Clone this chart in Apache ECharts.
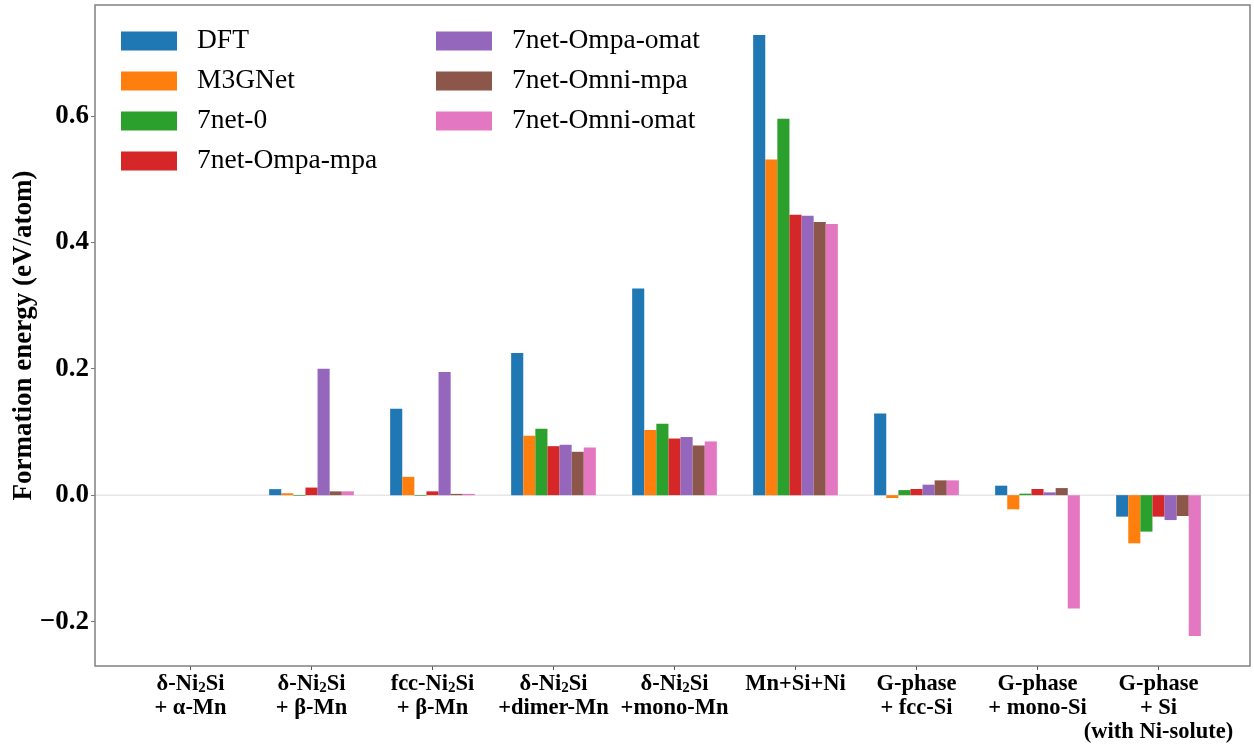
<!DOCTYPE html>
<html>
<head>
<meta charset="utf-8">
<script src="https://cdn.jsdelivr.net/npm/echarts@6/dist/echarts.min.js"></script>
<style>html,body{margin:0;padding:0;background:#fff;}#c{width:1254px;height:749px;}</style>
</head>
<body>
<div id="c"></div>
<script>
const categories = [
  'δ-Ni2Si\n+ α-Mn',
  'δ-Ni2Si\n+ β-Mn',
  'fcc-Ni2Si\n+ β-Mn',
  'δ-Ni2Si\n+dimer-Mn',
  'δ-Ni2Si\n+mono-Mn',
  'Mn+Si+Ni',
  'G-phase\n+ fcc-Si',
  'G-phase\n+ mono-Si',
  'G-phase\n+ Si\n(with Ni-solute)'
];
const seriesNames = ['DFT', 'M3GNet', '7net-0', '7net-Ompa-mpa', '7net-Ompa-omat', '7net-Omni-mpa', '7net-Omni-omat'];
const dft        = [0, 0.0095, 0.1366, 0.225, 0.327, 0.728, 0.129, 0.015, -0.034];
const m3gnet     = [0, 0.003, 0.029, 0.094, 0.103, 0.531, -0.0045, -0.0224, -0.0762];
const net0       = [0, -0.001, -0.001, 0.105, 0.113, 0.5956, 0.008, 0.0024, -0.0577];
const ompaMpa    = [0, 0.012, 0.006, 0.0775, 0.0896, 0.4438, 0.0097, 0.0097, -0.034];
const ompaOmat   = [0, 0.1999, 0.195, 0.0797, 0.092, 0.4422, 0.0166, 0.0044, -0.0394];
const omniMpa    = [0, 0.006, 0.002, 0.0686, 0.0786, 0.432, 0.0234, 0.0112, -0.033];
const omniOmat   = [0, 0.006, 0.002, 0.0754, 0.085, 0.429, 0.0234, -0.1795, -0.2228];
const seriesValues = [dft, m3gnet, net0, ompaMpa, ompaOmat, omniMpa, omniOmat];
const colors = ['#1f77b4', '#ff7f0e', '#2ca02c', '#d62728', '#9467bd', '#8c564b', '#e377c2'];
const yTicks = [-0.2, 0.0, 0.2, 0.4, 0.6];
const yMin = -0.2703, yMax = 0.7755;

const FONT = '"Liberation Serif", "Times New Roman", serif';
const chart = echarts.init(document.getElementById('c'), null, {renderer: 'canvas'});

const series = seriesNames.map((name, i) => ({
  name: name,
  type: 'bar',
  data: seriesValues[i],
  barWidth: '10%',
  barGap: '0%',
  itemStyle: {color: colors[i], borderWidth: 0},
  emphasis: {disabled: true}
}));

const legendText = {fontFamily: FONT, fontSize: 27.5, color: '#000', lineHeight: 27, padding: [0, 0, 0, 15]};

chart.setOption({
  animation: false,
  backgroundColor: '#fff',
  grid: {left: 130, right: 35, top: 5, bottom: 83, containLabel: false, outerBoundsMode: 'none'},
  legend: [
    {data: seriesNames.slice(0, 4), orient: 'vertical', left: 121, top: 27, padding: 0,
     itemWidth: 56, itemHeight: 19, itemGap: 12, icon: 'rect', textStyle: legendText, selectedMode: false},
    {data: seriesNames.slice(4), orient: 'vertical', left: 436, top: 27, padding: 0,
     itemWidth: 56, itemHeight: 19, itemGap: 12, icon: 'rect', textStyle: legendText, selectedMode: false}
  ],
  xAxis: {
    type: 'category',
    data: categories,
    axisLine: {show: true, onZero: false, lineStyle: {color: 'rgba(0,0,0,0)', width: 1}},
    axisTick: {show: true, alignWithLabel: true, length: 4, lineStyle: {color: '#555'}},
    axisLabel: {
      interval: 0,
      margin: 6,
      fontFamily: FONT, fontSize: 22.5, fontWeight: 'bold', color: '#000', lineHeight: 24,
      formatter: function (v) { return v.replace(/Ni2Si/g, 'Ni{sub|2}Si'); },
      rich: {
        sub: {fontFamily: FONT, fontSize: 15, fontWeight: 'bold', color: '#000', verticalAlign: 'bottom', lineHeight: 12}
      }
    }
  },
  yAxis: {
    type: 'value',
    min: yMin, max: yMax,
    splitNumber: 5,
    offset: 35,
    axisLine: {show: true, lineStyle: {color: 'rgba(0,0,0,0)', width: 1}},
    axisTick: {show: true, length: 4, lineStyle: {color: '#777'}},
    splitLine: {show: false},
    axisLabel: {
      margin: 6, fontFamily: FONT, fontSize: 27, fontWeight: 'bold', color: '#000',
      showMinLabel: false, showMaxLabel: false,
      formatter: function (v) {
        const hit = yTicks.find(t => Math.abs(t - v) < 1e-6);
        if (hit === undefined) return '';
        return hit.toFixed(1).replace('-', '\u2212');
      }
    },
    name: 'Formation energy (eV/atom)',
    nameLocation: 'middle',
    nameGap: 57,
    nameMoveOverlap: false,
    nameTextStyle: {fontFamily: FONT, fontSize: 27, fontWeight: 'bold', color: '#000'}
  },
  series: series
});

const y0 = chart.convertToPixel({yAxisIndex: 0}, 0);
const yTop = chart.convertToPixel({yAxisIndex: 0}, yMax);
const yBot = chart.convertToPixel({yAxisIndex: 0}, yMin);
chart.setOption({
  graphic: [
    {type: 'line', z: 1, silent: true, shape: {x1: 95, y1: y0, x2: 1250, y2: y0},
     style: {stroke: '#d9d9d9', lineWidth: 1}},
    {type: 'rect', z: 10, silent: true, shape: {x: 95, y: yTop, width: 1155, height: yBot - yTop},
     style: {fill: 'none', stroke: '#808080', lineWidth: 1.5}}
  ]
});
</script>
</body>
</html>
